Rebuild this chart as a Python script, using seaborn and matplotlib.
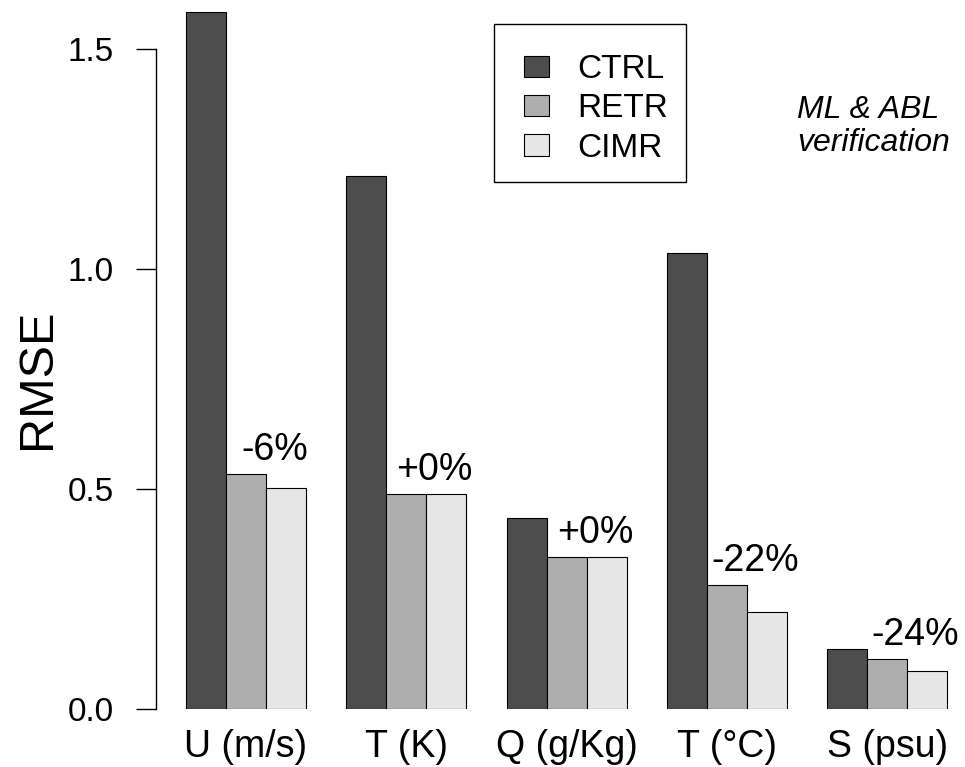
import numpy as np
import pandas as pd
import matplotlib
matplotlib.use("Agg")
import matplotlib.pyplot as plt
import seaborn as sns
from matplotlib.patches import Rectangle

# RMSE per verified variable and experiment
variables = ["U (m/s)", "T (K)", "Q (g/Kg)", "T (°C)", "S (psu)"]
experiments = ["CTRL", "RETR", "CIMR"]
rmse_ctrl = [1.584, 1.212, 0.435, 1.037, 0.137]
rmse_retr = [0.535, 0.489, 0.347, 0.2825, 0.114]
rmse_cimr = [0.502, 0.490, 0.346, 0.2205, 0.087]
yticks = [0.0, 0.5, 1.0, 1.5]
colors = ["#4D4D4D", "#AEAEAE", "#E6E6E6"]

df = pd.DataFrame({
    "variable": variables * len(experiments),
    "experiment": np.repeat(experiments, len(variables)),
    "rmse": rmse_ctrl + rmse_retr + rmse_cimr,
})

sns.set_style("white", {"text.color": "black", "axes.labelcolor": "black",
                        "xtick.color": "black", "ytick.color": "black"})
plt.rcParams["font.family"] = ["Liberation Sans", "DejaVu Sans"]

W, H = 965, 767
fig = plt.figure(figsize=(W / 100, H / 100), dpi=100)
left_px, bottom_px = 155.6, 57.7
ax = fig.add_axes([left_px / W, bottom_px / H, 1 - left_px / W, 1 - bottom_px / H])

sns.barplot(data=df, x="variable", y="rmse", hue="experiment",
            order=variables, hue_order=experiments, palette=colors,
            saturation=1, width=0.75, edgecolor="black", linewidth=0.8,
            errorbar=None, ax=ax)

ax.set_xlim(-0.564, 4.485)
ax.set_ylim(0, 709.3 / 440)

# relative change of CIMR with respect to RETR
for i, (r, c) in enumerate(zip(rmse_retr, rmse_cimr)):
    pct = int(round((c / r - 1) * 100))
    ax.annotate(f"{pct:+d}%" if pct >= 0 else f"{pct}%", xy=(i + 0.125, r),
                xytext=(6, 10), textcoords="offset points",
                ha="center", va="baseline", fontsize=27, color="black")

# axes styling
for side in ["top", "right", "bottom"]:
    ax.spines[side].set_visible(False)
ax.spines["left"].set_bounds(0, 1.5)
ax.spines["left"].set_color("black")
ax.spines["left"].set_linewidth(1.0)
ax.set_yticks(yticks)
ax.set_yticklabels([f"{v:.1f}" for v in yticks])
ax.tick_params(axis="y", left=True, length=14.4, width=1.0, pad=15.5,
               labelsize=24, direction="out", color="black", labelcolor="black")
ax.tick_params(axis="x", bottom=False, length=0, pad=14, labelsize=27,
               labelcolor="black")
ax.set_xlabel("")
ax.set_ylabel("RMSE", fontsize=35, color="black")
ax.yaxis.label.set_verticalalignment("baseline")
ax.yaxis.set_label_coords(50 / W, 1 - 378.5 / H, transform=fig.transFigure)

# legend
old = ax.get_legend()
handles = old.legend_handles
labels = [t.get_text() for t in old.get_texts()]
old.remove()
for h in handles:
    h.set_edgecolor("black")
    h.set_linewidth(0.8)
leg = ax.legend(handles, labels, loc="upper left",
                bbox_to_anchor=(524 / W, 1 - 54 / H), bbox_transform=fig.transFigure,
                frameon=False, borderpad=0, borderaxespad=0, fontsize=24,
                handlelength=0.75, handleheight=0.6, handletextpad=0.85,
                labelspacing=0.25)
for t in leg.get_texts():
    t.set_color("black")
fig.add_artist(Rectangle((494 / W, 1 - 182 / H), (686 - 494) / W, (182 - 24) / H,
                         transform=fig.transFigure, fill=False,
                         edgecolor="black", linewidth=1.0))

fig.text(797 / W, 1 - 118 / H, "ML & ABL", fontsize=23, style="italic",
         ha="left", va="baseline", color="black")
fig.text(797 / W, 1 - 151 / H, "verification", fontsize=23, style="italic",
         ha="left", va="baseline", color="black")

fig.savefig("out.png", dpi=100)
